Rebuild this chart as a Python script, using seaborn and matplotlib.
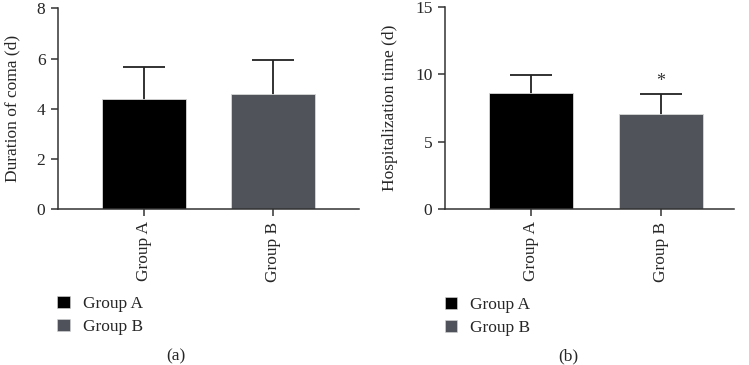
import matplotlib
matplotlib.use('Agg')
import matplotlib.pyplot as plt
import matplotlib.patches as mpatches
import seaborn as sns

# data
groups = ['Group A', 'Group B']
coma_mean = [4.4, 4.6]
coma_sd = [1.27, 1.33]
hosp_mean = [8.58, 7.07]
hosp_sd = [1.38, 1.46]
colors = ['#000000', '#4f525a']

sns.set_style('ticks')
plt.rcParams['font.family'] = ['Liberation Serif', 'DejaVu Serif']
plt.rcParams['font.size'] = 12

fig = plt.figure(figsize=(7.49, 3.65), dpi=100)
ax_a = fig.add_axes([0.0774, 0.4274, 0.4016, 0.5496])
ax_b = fig.add_axes([0.5941, 0.4274, 0.3859, 0.5543])

def draw_panel(ax, means, sds, ylabel, ymax, yticks, xlim):
    sns.barplot(x=groups, y=means, hue=groups, palette=colors, ax=ax,
                width=0.65, legend=False, errorbar=None,
                edgecolor='#d8d8d8', linewidth=0.6, zorder=2)
    # symmetric SD bars, lower half hidden behind the bars
    ax.errorbar(x=[0, 1], y=means, yerr=sds, fmt='none',
                ecolor='#222222', elinewidth=1.3, capsize=15, capthick=1.3, zorder=1)
    ax.set_ylim(0, ymax)
    ax.set_yticks(yticks)
    ax.set_xlim(*xlim)
    ax.set_ylabel(ylabel, fontsize=12.5, labelpad=12)
    ax.set_xlabel('')
    ax.tick_params(axis='x', labelrotation=90, length=5, width=1.1, color='#333333', labelsize=12.5, pad=4)
    ax.tick_params(axis='y', length=5, width=1.1, color='#333333', labelsize=12.5, pad=4)
    for side in ['top', 'right']:
        ax.spines[side].set_visible(False)
    for side in ['left', 'bottom']:
        ax.spines[side].set_color('#333333')
        ax.spines[side].set_linewidth(1.1)
        ax.spines[side].set_zorder(3)
    handles = [mpatches.Patch(facecolor=c, edgecolor='#d8d8d8', linewidth=0.4, label=g)
               for c, g in zip(colors, groups)]
    ax.legend(handles=handles, loc='upper left', bbox_to_anchor=(-0.025, -0.4),
              frameon=False, fontsize=12.5, handlelength=0.7, handleheight=0.7,
              handletextpad=0.75, labelspacing=0.4, borderaxespad=0)

draw_panel(ax_a, coma_mean, coma_sd, 'Duration of coma (d)', 8, [0, 2, 4, 6, 8], (-0.667, 1.667))
draw_panel(ax_b, hosp_mean, hosp_sd, 'Hospitalization time (d)', 15, [0, 5, 10, 15], (-0.66, 1.56))

# significance mark on group B
ax_b.annotate('*', xy=(1, hosp_mean[1] + hosp_sd[1]), xytext=(0, 3),
              textcoords='offset points', ha='center', va='bottom', fontsize=13, color='#333333')

fig.text(176 / 749, 1 - 356 / 365, '(a)', ha='center', va='center', fontsize=12.5)
fig.text(568 / 749, 1 - 356 / 365, '(b)', ha='center', va='center', fontsize=12.5)

fig.savefig('out.png', dpi=100)
plt.close(fig)
